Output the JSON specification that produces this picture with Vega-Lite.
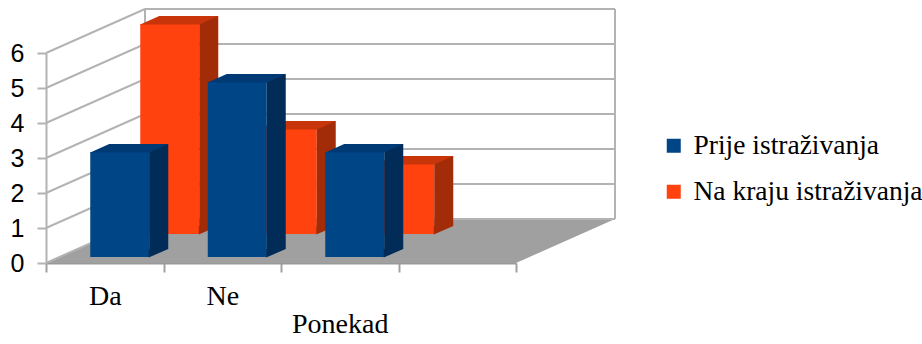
{
  "$schema": "https://vega.github.io/schema/vega-lite/v6.json",
  "width": 470,
  "height": 210,
  "autosize": {"type": "none"},
  "padding": {"left": 46, "top": 53, "right": 406, "bottom": 81},
  "background": "white",
  "datasets": {
    "bars": [
      {"kategorija": "Da", "serija": "Prije istraživanja", "v": 3},
      {"kategorija": "Ne", "serija": "Prije istraživanja", "v": 5},
      {"kategorija": "Ponekad", "serija": "Prije istraživanja", "v": 3},
      {"kategorija": "Da", "serija": "Na kraju istraživanja", "v": 6},
      {"kategorija": "Ne", "serija": "Na kraju istraživanja", "v": 3},
      {"kategorija": "Ponekad", "serija": "Na kraju istraživanja", "v": 2}
    ],
    "ticks": [{"v": 0}, {"v": 1}, {"v": 2}, {"v": 3}, {"v": 4}, {"v": 5}, {"v": 6}]
  },
  "encoding": {
    "y": {
      "field": "v",
      "type": "quantitative",
      "scale": {"domain": [0, 6], "nice": false, "zero": true},
      "axis": {
        "title": null,
        "orient": "left",
        "values": [0, 1, 2, 3, 4, 5, 6],
        "grid": false,
        "domainColor": "#b3b3b3",
        "domainWidth": 2,
        "tickColor": "#b3b3b3",
        "tickWidth": 2,
        "tickSize": 9,
        "labelFont": "Liberation Sans",
        "labelFontSize": 25,
        "labelColor": "#000000",
        "labelPadding": 13
      }
    }
  },
  "resolve": {"scale": {"x": "independent"}},
  "layer": [
    {
      "data": {"name": "ticks"},
      "layer": [
        {
          "transform": [{"filter": "datum.v == 0"}],
          "mark": {"type": "point", "filled": true, "shape": "M0 0 L470 0 L569 -44 L99 -44 Z", "size": 4, "color": "#a0a0a0", "opacity": 1, "strokeWidth": 0},
          "encoding": {
            "x": {"datum": 0, "type": "quantitative", "scale": {"domain": [0, 4], "nice": false, "zero": true}, "axis": null},
            "y": {"datum": 0, "type": "quantitative"}
          }
        },
        {
          "mark": {"type": "rule", "color": "#b3b3b3", "strokeWidth": 2, "x2Offset": 99, "y2Offset": -44},
          "encoding": {
            "x": {"datum": 0, "type": "quantitative"},
            "x2": {"datum": 0},
            "y2": {"field": "v"}
          }
        },
        {
          "mark": {"type": "rule", "color": "#b3b3b3", "strokeWidth": 2, "xOffset": 99, "x2Offset": 99, "yOffset": -44, "y2Offset": -44},
          "encoding": {
            "x": {"datum": 0, "type": "quantitative"},
            "x2": {"datum": 4},
            "y2": {"field": "v"}
          }
        },
        {
          "transform": [{"filter": "datum.v == 0"}],
          "mark": {"type": "rule", "color": "#b3b3b3", "strokeWidth": 2, "xOffset": 99, "x2Offset": 99, "yOffset": -44, "y2Offset": -44},
          "encoding": {
            "x": {"datum": 0, "type": "quantitative"},
            "y": {"datum": 0, "type": "quantitative"},
            "y2": {"datum": 6}
          }
        },
        {
          "transform": [{"filter": "datum.v == 0"}],
          "mark": {"type": "rule", "color": "#b3b3b3", "strokeWidth": 2, "xOffset": 99, "x2Offset": 99, "yOffset": -44, "y2Offset": -44},
          "encoding": {
            "x": {"datum": 4, "type": "quantitative"},
            "y": {"datum": 0, "type": "quantitative"},
            "y2": {"datum": 6}
          }
        }
      ]
    },
    {
      "data": {"name": "bars"},
      "encoding": {
        "x": {
          "field": "kategorija",
          "type": "nominal",
          "sort": null,
          "scale": {"domain": ["Da", "Ne", "Ponekad", " "], "paddingInner": 0, "paddingOuter": 0},
          "axis": {
            "title": null,
            "orient": "bottom",
            "labelAngle": 0,
            "tickBand": "extent",
            "tickSize": 9,
            "tickWidth": 2,
            "tickColor": "#a0a0a0",
            "domainColor": "#999999",
            "domainWidth": 2,
            "labelFont": "Liberation Serif",
            "labelFontSize": 28,
            "labelColor": "#000000",
            "labelBaseline": "top",
            "labelOverlap": false,
            "labelBound": false,
            "labelPadding": {"expr": "datum.value == 'Ponekad' ? 38 : 10"}
          }
        }
      },
      "layer": [
        {
          "transform": [{"filter": "datum.serija == 'Na kraju istraživanja'"}],
          "layer": [
            {
              "mark": {"type": "bar", "width": 59, "xOffset": 65, "yOffset": -29, "y2Offset": -29},
              "encoding": {
                "color": {
                  "field": "serija",
                  "type": "nominal",
                  "scale": {"domain": ["Prije istraživanja", "Na kraju istraživanja"], "range": ["#004586", "#ff420e"]},
                  "legend": {"title": null, "orient": "none", "legendX": 614, "legendY": 79, "labelFont": "Liberation Serif"}
                }
              }
            },
            {
              "mark": {"type": "bar", "width": 19, "xOffset": 104, "yOffset": -37, "y2Offset": -37, "color": "#a32c08"}
            },
            {
              "mark": {"type": "point", "filled": true, "shape": "M-0.5 0.5 L-0.5 -8 L19 -8 Z", "size": 4, "color": "#a32c08", "opacity": 1, "strokeWidth": 0, "xOffset": 94.5, "yOffset": -29},
              "encoding": {"y": {"datum": 0, "type": "quantitative"}}
            },
            {
              "mark": {"type": "point", "filled": true, "shape": "M-29.5 0.5 L29.5 0.5 L48.5 -8 L-10.5 -8 Z", "size": 4, "color": "#c8350a", "opacity": 1, "strokeWidth": 0, "xOffset": 65, "yOffset": -29}
            }
          ]
        },
        {
          "transform": [{"filter": "datum.serija == 'Prije istraživanja'"}],
          "layer": [
            {
              "mark": {"type": "bar", "width": 59, "xOffset": 15, "yOffset": -6, "y2Offset": -6},
              "encoding": {
                "color": {"field": "serija", "type": "nominal", "legend": {"title": null, "orient": "none", "legendX": 614, "legendY": 79, "labelFont": "Liberation Serif"}}
              }
            },
            {
              "mark": {"type": "bar", "width": 19, "xOffset": 54, "yOffset": -14, "y2Offset": -14, "color": "#002c57"}
            },
            {
              "mark": {"type": "point", "filled": true, "shape": "M-0.5 0.5 L-0.5 -8 L19 -8 Z", "size": 4, "color": "#002c57", "opacity": 1, "strokeWidth": 0, "xOffset": 44.5, "yOffset": -6},
              "encoding": {"y": {"datum": 0, "type": "quantitative"}}
            },
            {
              "mark": {"type": "point", "filled": true, "shape": "M-29.5 0.5 L29.5 0.5 L48.5 -8 L-10.5 -8 Z", "size": 4, "color": "#003a75", "opacity": 1, "strokeWidth": 0, "xOffset": 15, "yOffset": -6}
            }
          ]
        }
      ]
    }
  ],
  "config": {
    "view": {"stroke": null},
    "legend": {
      "padding": 0,
      "symbolType": "square",
      "symbolSize": 196,
      "symbolStrokeWidth": 0,
      "labelFont": "Liberation Serif",
      "labelFontSize": 27.5,
      "labelColor": "#000000",
      "labelOffset": 6,
      "labelLimit": 0,
      "rowPadding": 17
    }
  }
}
